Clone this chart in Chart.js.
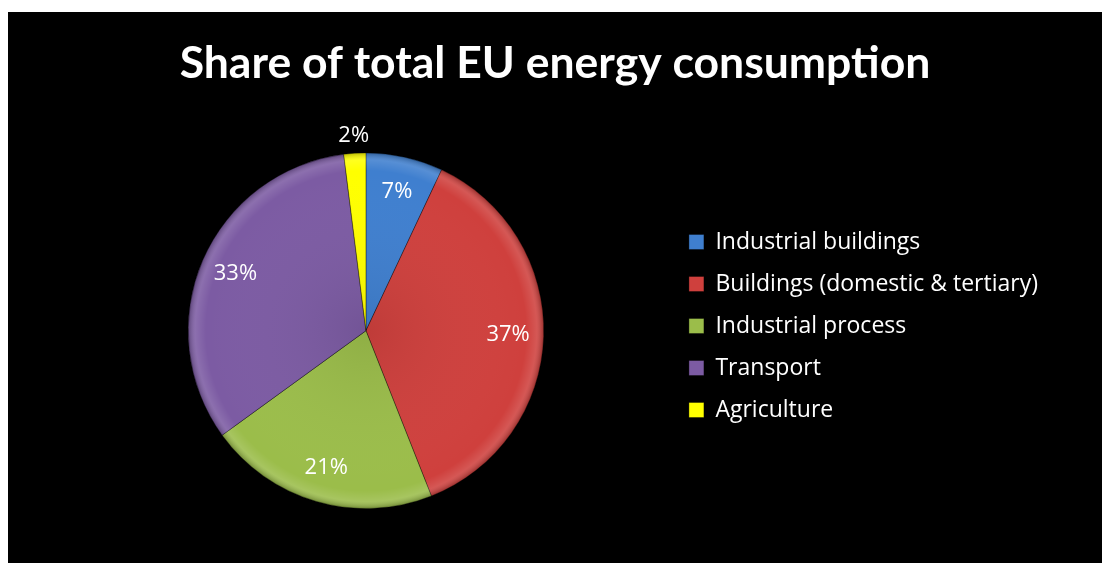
<!DOCTYPE html>
<html>
<head>
<meta charset="utf-8">
<script src="https://cdn.jsdelivr.net/npm/chart.js@4"></script>
<style>
  html, body { margin: 0; padding: 0; background: #fff; }
  #wrap { position: absolute; left: 8px; top: 12px; width: 1094px; height: 551px; background: #000; }
</style>
</head>
<body>
<div id="wrap"><canvas id="pie"></canvas></div>
<script>
const categories = ["Industrial buildings", "Buildings (domestic & tertiary)", "Industrial process", "Transport", "Agriculture"];
const shares = [7, 37, 21, 33, 2];
const colors = ["#3f7fcf", "#cf403d", "#9bbd4a", "#7c5ba3", "#ffff00"];

// percentage labels, inside the slice, outside for the tiny one
const sliceLabels = {
  id: "sliceLabels",
  afterDatasetsDraw(chart) {
    const ctx = chart.ctx;
    const meta = chart.getDatasetMeta(0);
    ctx.save();
    ctx.fillStyle = "#fff";
    ctx.font = "22px 'Open Sans'";
    ctx.textAlign = "center";
    ctx.textBaseline = "middle";
    meta.data.forEach((arc, i) => {
      const { x, y, startAngle, endAngle, outerRadius } = arc.getProps(["x", "y", "startAngle", "endAngle", "outerRadius"]);
      const mid = (startAngle + endAngle) / 2;
      const k = shares[i] < 5 ? 1.1 : 0.8;
      ctx.fillText(shares[i] + "%", x + Math.cos(mid) * outerRadius * k, y + Math.sin(mid) * outerRadius * k);
    });
    ctx.restore();
  }
};

// soft bevel rim over the pie
const bevel = {
  id: "bevel",
  afterDatasetsDraw(chart) {
    const arc = chart.getDatasetMeta(0).data[0];
    if (!arc) return;
    const { x, y, outerRadius: r } = arc.getProps(["x", "y", "outerRadius"]);
    const ctx = chart.ctx;
    const g = ctx.createRadialGradient(x, y, 0, x, y, r);
    g.addColorStop(0, "rgba(0,0,0,0.08)");
    g.addColorStop(0.9, "rgba(255,255,255,0)");
    g.addColorStop(0.96, "rgba(255,255,255,0.12)");
    g.addColorStop(1, "rgba(0,0,0,0.25)");
    ctx.save();
    ctx.beginPath();
    ctx.arc(x, y, r, 0, Math.PI * 2);
    ctx.fillStyle = g;
    ctx.fill();
    ctx.restore();
  }
};

new Chart(document.getElementById("pie"), {
  type: "pie",
  data: {
    labels: categories,
    datasets: [{
      data: shares,
      backgroundColor: colors,
      borderColor: "rgba(0,0,0,0.35)",
      borderWidth: 1
    }]
  },
  options: {
    responsive: true,
    maintainAspectRatio: false,
    animation: false,
    layout: { padding: { left: 54, right: 54, top: 0, bottom: 54 } },
    plugins: {
      title: {
        display: true,
        text: "Share of total EU energy consumption",
        color: "#fff",
        font: { family: "Lato", size: 44.5, weight: "bold" },
        padding: { top: 25, bottom: 62 }
      },
      legend: {
        position: "right",
        // empty title only pushes the items down to mid-height
        title: { display: true, text: " ", font: { size: 1, lineHeight: 1 }, padding: { top: 130, bottom: 0 } },
        labels: {
          color: "#fff",
          font: { family: "Open Sans", size: 23 },
          boxWidth: 15,
          boxHeight: 15,
          padding: 19
        }
      },
      tooltip: { enabled: false }
    }
  },
  plugins: [bevel, sliceLabels]
});
</script>
</body>
</html>
